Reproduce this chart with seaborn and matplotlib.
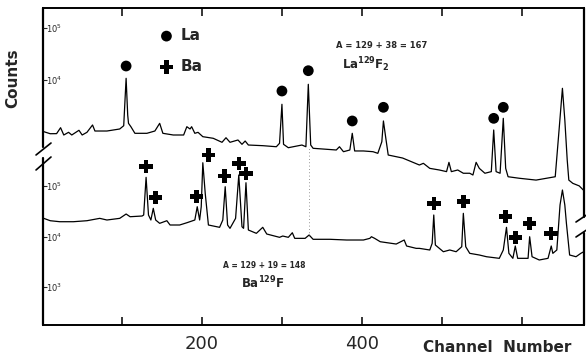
import seaborn as sns
import matplotlib.pyplot as plt
from matplotlib.ticker import FixedLocator, NullLocator

sns.set_style('white')
plt.rcParams['font.family'] = ['DejaVu Sans']
plt.rcParams['mathtext.fontset'] = 'dejavusans'

# upper spectrum: A = 129 + 38 = 167 (La129F2)
la_channel = [2, 10, 18, 23, 27, 33, 37, 46, 50, 56, 63, 66, 81, 97, 102, 105, 107, 108, 111, 116,
              131, 141, 147, 151, 164, 177, 181, 185, 187, 191, 195, 201, 214, 225, 230, 235, 245,
              250, 254, 258, 276, 293, 297, 300, 302, 308, 325, 330, 333, 336, 339, 368, 372, 377,
              385, 388, 391, 402, 414, 420, 425, 427, 430, 433, 451, 472, 477, 485, 497, 506, 509,
              512, 520, 527, 535, 539, 543, 547, 554, 562, 565, 568, 573, 577, 580, 583, 597, 618,
              642, 647, 651, 654, 657, 659, 664, 672, 677]
la_counts = [1015, 927, 930, 1210, 876, 986, 876, 1079, 876, 986, 1365, 1045, 1045, 1143, 1321, 10780,
             2123, 1468, 1264, 944, 944, 1045, 1468, 944, 876, 876, 1264, 1143, 1264, 944, 986, 813,
             757, 634, 776, 634, 702, 580, 671, 562, 546, 521, 607, 3412, 580, 499, 562, 521, 8265,
             562, 486, 451, 521, 418, 451, 944, 432, 432, 418, 389, 650, 1630, 757, 361, 316, 232,
             250, 200, 186, 173, 261, 173, 186, 161, 161, 149, 261, 200, 161, 173, 1093, 173, 161,
             1832, 200, 138, 129, 119, 138, 1194, 6920, 1702, 289, 119, 103, 92, 77]

# lower spectrum: A = 129 + 19 = 148 (Ba129F)
ba_channel = [2, 10, 22, 39, 56, 72, 81, 97, 105, 110, 125, 127, 130, 133, 136, 139, 142, 147, 156,
              160, 172, 181, 191, 194, 197, 199, 201, 204, 208, 222, 226, 229, 232, 235, 242, 246,
              250, 252, 255, 258, 268, 276, 281, 297, 301, 308, 313, 316, 329, 334, 339, 360, 381,
              402, 410, 412, 416, 423, 443, 453, 456, 468, 472, 485, 488, 490, 492, 502, 510, 518,
              525, 527, 530, 535, 547, 556, 572, 577, 581, 584, 589, 592, 595, 602, 608, 610, 613,
              622, 633, 637, 639, 644, 648, 651, 654, 656, 660, 668, 674, 677]
ba_counts = [22900, 20560, 19640, 19640, 20560, 22900, 21230, 22900, 27900, 24660, 25470, 26670,
             148600, 26670, 21230, 36130, 21230, 18240, 20560, 16910, 16910, 18740, 21230, 38930,
             21230, 38930, 289000, 71680, 16910, 15210, 21230, 96860, 16910, 14520, 22900, 165200,
             15630, 14520, 116200, 13460, 11560, 15210, 11210, 9640, 10230, 9640, 11880, 9200, 9200,
             10720, 8810, 8810, 8530, 8530, 9200, 9910, 9200, 7890, 7100, 8530, 6490, 5830, 5830,
             5410, 7330, 26670, 6790, 5000, 5410, 5000, 6280, 28780, 6280, 4645, 4306, 3980, 3700,
             5410, 15210, 4645, 3700, 6490, 3700, 3700, 3700, 9910, 3980, 3430, 3700, 6490, 4645,
             5410, 42060, 83340, 42060, 18240, 4306, 3980, 4645, 4930]

# peak markers
la_peak_channel = [105, 300, 333, 388, 427, 565, 577]
la_peak_counts = [18580, 6140, 15100, 1630, 2985, 1832, 2985]
ba_peak_channel = [130, 142, 193, 208, 228, 246, 255, 490, 527, 580, 592, 610, 637]
ba_peak_counts = [241000, 59700, 61400, 411000, 157800, 281600, 178300, 45400, 48900, 24660,
                  9640, 18240, 11560]

x_ticks = [100, 200, 300, 400, 500, 600]
x_tick_labels = ['', '200', '', '400', '', '']

fig = plt.figure(figsize=(5.86, 3.56), dpi=100)
rect = [43 / 586, 31 / 356, 541 / 586, 317 / 356]
ax_low = fig.add_axes(rect, label='low')
ax_up = fig.add_axes(rect, label='up', facecolor='none')

for ax in (ax_low, ax_up):
    ax.set_yscale('log')
    ax.set_xlim(1, 678)

sns.lineplot(x=la_channel, y=la_counts, ax=ax_up, color='black', lw=0.9, estimator=None)
sns.lineplot(x=ba_channel, y=ba_counts, ax=ax_low, color='black', lw=0.9, estimator=None)
sns.scatterplot(x=la_peak_channel, y=la_peak_counts, ax=ax_up, marker='o', s=60,
                color='black', edgecolor='none', label='La')
sns.scatterplot(x=ba_peak_channel, y=ba_peak_counts, ax=ax_low, marker='P', s=95,
                color='black', edgecolor='none', label='Ba')

ax_up.set_ylim(0.1945, 242400)
ax_low.set_ylim(177, 3.35e8)

# dotted guide line under the La peak
ax_up.axvline(334, ymin=0.281, ymax=0.5615, color='0.45', lw=0.6, ls=(0, (1, 3)))

# x axis
ax_low.xaxis.set_major_locator(FixedLocator(x_ticks))
ax_low.set_xticklabels(x_tick_labels)
ax_low.tick_params(axis='x', direction='in', length=6, width=1.3, top=True, bottom=True,
                   labelsize=13, pad=7)
ax_up.tick_params(axis='x', which='both', bottom=False, top=False, labelbottom=False)

# y axes: labels inside the frame
for ax, ticks in ((ax_up, [1e4, 1e5]), (ax_low, [1e3, 1e4, 1e5])):
    ax.yaxis.set_major_locator(FixedLocator(ticks))
    ax.yaxis.set_minor_locator(NullLocator())
    ax.tick_params(axis='y', which='major', direction='in', length=3, width=0.8, left=True,
                   right=False, pad=-2, labelsize=6)
    plt.setp(ax.get_yticklabels(), ha='left')
    ax.set_xlabel('')
    ax.set_ylabel('')
    for side in ['left', 'right', 'top', 'bottom']:
        ax.spines[side].set_visible(False)

ax_up.spines['top'].set_visible(True)
ax_low.spines['bottom'].set_visible(True)
for sp in (ax_up.spines['top'], ax_low.spines['bottom']):
    sp.set_linewidth(1.4)
    sp.set_color('black')

# broken left / right frame
kw = dict(transform=ax_low.transAxes, color='black', clip_on=False)
ax_low.plot([0, 0], [0.5615, 1], lw=1.6, **kw)
ax_low.plot([0, 0], [0, 0.5268], lw=1.6, **kw)
ax_low.plot([-0.0129, 0.0148], [0.5363, 0.5741], lw=1.2, **kw)
ax_low.plot([-0.0129, 0.0148], [0.4890, 0.5300], lw=1.2, **kw)
ax_low.plot([1, 1], [0.3407, 1], lw=1.6, **kw)
ax_low.plot([1, 1], [0, 0.2902], lw=1.6, **kw)
ax_low.plot([0.9852, 1.0074], [0.3249, 0.3502], lw=1.2, **kw)
ax_low.plot([0.9852, 1.0074], [0.2776, 0.3028], lw=1.2, **kw)

# legend
h1, l1 = ax_up.get_legend_handles_labels()
h2, l2 = ax_low.get_legend_handles_labels()
if ax_low.get_legend():
    ax_low.get_legend().remove()
ax_up.legend(h1 + h2, l1 + l2, loc='upper left', bbox_to_anchor=(0.271, 0.921),
             bbox_transform=fig.transFigure, frameon=False, borderpad=0, borderaxespad=0,
             handlelength=1, handletextpad=0.45, labelspacing=1.05,
             prop={'weight': 'bold', 'size': 11})

# annotations
ax_up.text(0.625, 0.883, 'A = 129 + 38 = 167', transform=ax_up.transAxes, ha='center',
           va='center', fontsize=6, weight='bold')
ax_up.text(0.597, 0.820, r'$\mathbf{La^{129}F_2}$', transform=ax_up.transAxes, ha='center',
           va='center', fontsize=8.5)
ax_low.text(0.4085, 0.189, 'A = 129 + 19 = 148', transform=ax_low.transAxes, ha='center',
            va='center', fontsize=5.5, weight='bold')
ax_low.text(0.4067, 0.1325, r'$\mathbf{Ba^{129}F}$', transform=ax_low.transAxes, ha='center',
            va='center', fontsize=8.5)

fig.text(0.022, 0.78, 'Counts', rotation=90, ha='center', va='center', fontsize=11,
         weight='bold')
fig.text(0.848, 0.024, 'Channel  Number', ha='center', va='center', fontsize=11,
         weight='bold')

fig.savefig('out.png', dpi=100)
